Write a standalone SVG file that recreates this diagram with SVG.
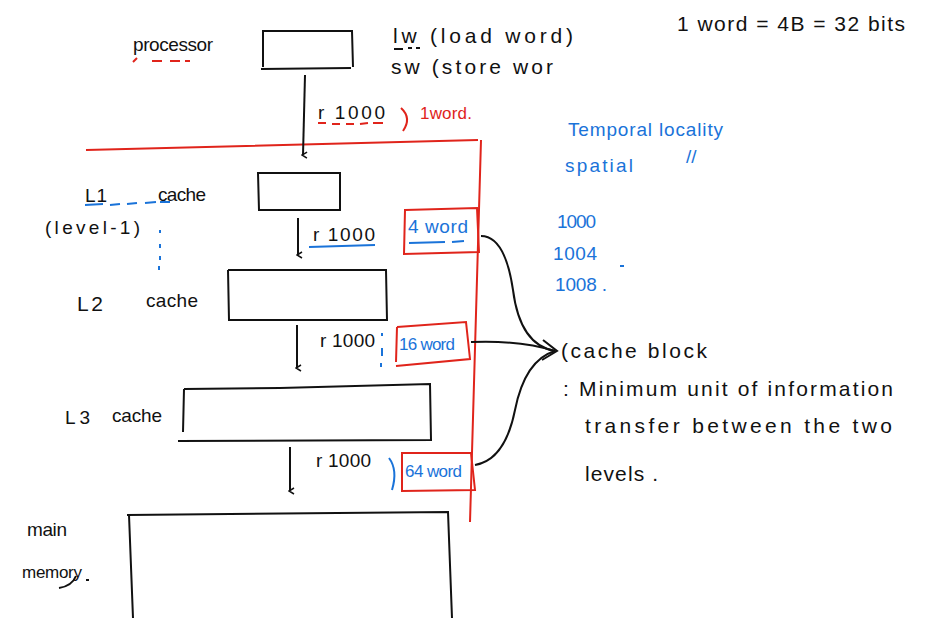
<svg xmlns="http://www.w3.org/2000/svg" width="926" height="618" viewBox="0 0 926 618">
<style>
text{font-family:"Liberation Sans","DejaVu Sans",sans-serif;font-size:19px;fill:#111}
.big{font-size:21px}
.sm{font-size:17px}
.b{fill:#1a73d9}
.r{fill:#e0241b}
.box{fill:none;stroke:#111;stroke-width:2}
.rbox{fill:none;stroke:#e0241b;stroke-width:2}
.ln{fill:none;stroke:#111;stroke-width:2}
.rl{fill:none;stroke:#e0241b;stroke-width:2}
.bl{fill:none;stroke:#1a73d9;stroke-width:2}
</style>
<defs>
<marker id="ah" markerWidth="8" markerHeight="8" refX="4" refY="6" orient="auto" markerUnits="userSpaceOnUse" viewBox="0 0 8 8"><path d="M1,2 L4,7 L7,2" fill="none" stroke="#111" stroke-width="1.5"/></marker>
</defs>
<rect width="926" height="618" fill="#fff"/>
<!-- red boundary -->
<path class="rl" d="M86,150 L478,140 M481,140 L470,522"/>
<g id="processor">
<text x="133" y="51" textLength="80" lengthAdjust="spacing">processor</text>
<path class="rl" d="M133,62 L137,58 M152,61 L162,61 M170,61 L180,61 M185,61 L190,61"/>
<path class="box" d="M262,31 L352,31 L353,67 M263,31 L263,67 M261,69 L351,68"/>
</g>
<g id="notes-top">
<text class="big" x="393" y="43" textLength="180" lengthAdjust="spacing">lw (load word)</text>
<path class="ln" d="M394,49 L403,49 M408,48 L412,48 M416,48 L420,48"/>
<text class="big" x="391" y="74" textLength="162" lengthAdjust="spacing">sw (store wor</text>
<text class="big" x="677" y="31" textLength="228" lengthAdjust="spacing">1 word = 4B = 32 bits</text>
</g>
<g id="locality">
<text class="b" x="568" y="136" textLength="155" lengthAdjust="spacing">Temporal locality</text>
<text class="b" x="565" y="172" textLength="68" lengthAdjust="spacing">spatial</text>
<text class="b" x="686" y="163" font-size="17">//</text>
<text class="b" x="557" y="228" textLength="39" lengthAdjust="spacing">1000</text>
<text class="b" x="553" y="260" textLength="44" lengthAdjust="spacing">1004</text>
<text class="b" x="555" y="291" textLength="52" lengthAdjust="spacing">1008 .</text>
<path class="bl" d="M620,266 L624,266" stroke-width="1.5"/>
</g>
<g id="L1">
<text x="85" y="202" textLength="22" lengthAdjust="spacing">L1</text>
<text x="158" y="201" textLength="48" lengthAdjust="spacing">cache</text>
<path class="bl" d="M85,205 L103,204 M110,205 L120,204 M127,204 L137,203 M145,203 L156,202 M160,202 L170,202" stroke-width="1.5"/>
<text x="45" y="234" textLength="95" lengthAdjust="spacing">(level-1)</text>
<path class="bl" d="M160,230 L160,233 M160,244 L160,248 M160,256 L160,260 M159,266 L159,270"/>
<path class="box" d="M258,173 L340,173 L340,210 L259,210 Z"/>
</g>
<g id="L2">
<text class="big" x="77" y="311" textLength="26" lengthAdjust="spacing">L2</text>
<text x="146" y="307" textLength="52" lengthAdjust="spacing">cache</text>
<path class="box" d="M228,270 L386,270 L387,320 L229,320 L228,270"/>
</g>
<g id="L3">
<text x="65" y="424" textLength="25" lengthAdjust="spacing">L3</text>
<text x="112" y="422" textLength="50" lengthAdjust="spacing">cache</text>
<path class="box" d="M184,389 L280,388 L430,384 L431,440 L178,441 M184,389 L183,432"/>
</g>
<g id="main-memory">
<text x="27" y="536" textLength="40" lengthAdjust="spacing">main</text>
<text class="sm" x="22" y="578" textLength="60" lengthAdjust="spacing">memory</text>
<path class="ln" d="M59,588 Q72,586 76,576" stroke-width="1.5"/>
<path class="ln" d="M86,580 L89,580" stroke-width="1.5"/>
<path class="box" d="M127,515 L448,512 L452,618 M129,515 L133,618"/>
</g>
<g id="block-4word">
<path class="rbox" d="M405,210 L477,208 L479,252 L404,254 Z"/>
<text class="b" x="408" y="233" textLength="60" lengthAdjust="spacing">4 word</text>
<path class="bl" d="M409,243 L445,242 M452,242 L464,241" stroke-width="1.5"/>
</g>
<g id="block-16word">
<path class="rbox" d="M397,327 L466,322 L470,359 L396,366 M397,327 L396,362"/>
<text class="b sm" x="399" y="350" textLength="56" lengthAdjust="spacing">16 word</text>
</g>
<g id="block-64word">
<path class="rbox" d="M402,453 L471,453 L475,490 L402,491 Z"/>
<text class="b sm" x="405" y="477" textLength="57" lengthAdjust="spacing">64 word</text>
</g>
<g id="cache-block">
<text class="big" x="561" y="358" textLength="146" lengthAdjust="spacing">(cache   block</text>
<text class="big" x="563" y="396" textLength="330" lengthAdjust="spacing">:  Minimum  unit  of  information</text>
<text class="big" x="585" y="433" textLength="307" lengthAdjust="spacing">transfer  between  the  two</text>
<text class="big" x="585" y="481" textLength="73" lengthAdjust="spacing">levels .</text>
</g>
<g id="connectors">
<path class="ln" d="M305,75 L303,155" marker-end="url(#ah)"/>
<text x="318" y="119" textLength="67" lengthAdjust="spacing">r  1000</text>
<path class="rl" d="M318,123 L326,123 M332,124 L340,124 M346,124 L354,124 M360,124 L368,123 M373,123 L383,123" stroke-width="1.5"/>
<path class="rl" d="M401,108 Q412,118 403,131" stroke-width="1.8"/>
<text class="r sm" x="420" y="119" textLength="52" lengthAdjust="spacing">1word.</text>
<path class="ln" d="M298,218 L298,255" marker-end="url(#ah)"/>
<text x="313" y="241" textLength="62" lengthAdjust="spacing">r   1000</text>
<path class="bl" d="M309,247 L375,245"/>
<path class="ln" d="M297,325 L297,368" marker-end="url(#ah)"/>
<text x="320" y="347" textLength="55" lengthAdjust="spacing">r 1000</text>
<path class="bl" d="M382,333 L382,336 M382,348 L382,356 M381,363 L381,367"/>
<path class="ln" d="M290,447 L290,491" marker-end="url(#ah)"/>
<text x="316" y="467" textLength="55" lengthAdjust="spacing">r 1000</text>
<path class="bl" d="M389,458 Q398,470 392,490" stroke-width="1.5"/>
<path class="ln" d="M481,236 Q505,236 513,290 Q520,345 555,351" stroke-width="1.8"/>
<path class="ln" d="M471,342 Q520,340 555,351" stroke-width="1.8"/>
<path class="ln" d="M475,465 Q505,460 515,410 Q525,360 555,351" stroke-width="1.8"/>
<path class="ln" d="M543,340 L557,351 L542,360" stroke-width="1.8"/>
</g>
</svg>
